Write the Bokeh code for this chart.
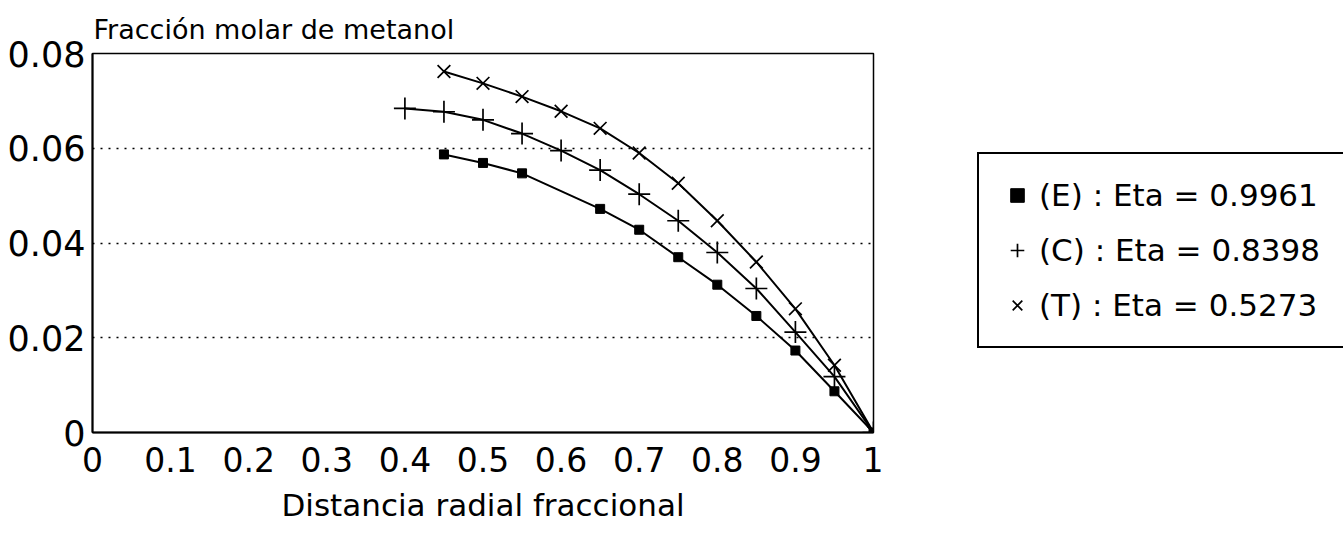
from bokeh.plotting import figure
from bokeh.layouts import row
from bokeh.models import Range1d, FixedTicker, Legend, LegendItem
from bokeh.embed import file_html
from bokeh.resources import INLINE

# ---- data ----
x_E = [0.45, 0.50, 0.55, 0.65, 0.70, 0.75, 0.80, 0.85, 0.90, 0.95, 1.00]
y_E = [0.0587, 0.0569, 0.0547, 0.0472, 0.0428, 0.0370, 0.0312, 0.0246, 0.0173, 0.0087, 0.0]

x_C = [0.40, 0.45, 0.50, 0.55, 0.60, 0.65, 0.70, 0.75, 0.80, 0.85, 0.90, 0.95, 1.00]
y_C = [0.0684, 0.0677, 0.0660, 0.0631, 0.0595, 0.0554, 0.0503, 0.0447, 0.0380, 0.0304, 0.0212, 0.0118, 0.0]

x_T = [0.45, 0.50, 0.55, 0.60, 0.65, 0.70, 0.75, 0.80, 0.85, 0.90, 0.95, 1.00]
y_T = [0.0762, 0.0737, 0.0709, 0.0678, 0.0642, 0.0590, 0.0526, 0.0447, 0.0360, 0.0261, 0.0142, 0.0]

series_labels = ["(E) : Eta = 0.9961", "(C) : Eta = 0.8398", "(T) : Eta = 0.5273"]

x_ticks = [0, 0.1, 0.2, 0.3, 0.4, 0.5, 0.6, 0.7, 0.8, 0.9, 1]
x_tick_labels = ["0", "0.1", "0.2", "0.3", "0.4", "0.5", "0.6", "0.7", "0.8", "0.9", "1"]
y_ticks = [0, 0.02, 0.04, 0.06, 0.08]
y_tick_labels = ["0", "0.02", "0.04", "0.06", "0.08"]

title_text = "Fracción molar de metanol"
x_label = "Distancia radial fraccional"

FONT = "DejaVu Sans"

# ---------------- main chart ----------------
p = figure(width=883, height=533, output_backend="svg", toolbar_location=None,
           x_range=Range1d(0, 1), y_range=Range1d(0, 0.08),
           min_border_left=92, min_border_right=10, min_border_top=53,
           min_border_bottom=101)

p.background_fill_color = "white"
p.border_fill_color = "white"
p.outline_line_color = "black"
p.outline_line_width = 1.5

p.title.text = title_text
p.title.text_font = FONT
p.title.text_font_size = "27px"
p.title.text_font_style = "normal"
p.title.text_color = "black"
p.title.align = "left"
p.title.offset = 1
p.title.standoff = 17

for ax in (p.xaxis[0], p.yaxis[0]):
    ax.axis_line_color = "black"
    ax.axis_line_width = 2
    ax.major_tick_line_color = None
    ax.minor_tick_line_color = None
    ax.major_tick_out = 0
    ax.major_tick_in = 0
    ax.major_label_text_font = FONT
    ax.major_label_text_color = "black"

p.xaxis.ticker = FixedTicker(ticks=x_ticks)
p.xaxis.major_label_overrides = dict(zip(x_ticks, x_tick_labels))
p.xaxis.major_label_text_font_size = "33px"
p.xaxis.major_label_standoff = 14
p.xaxis.axis_label = x_label
p.xaxis.axis_label_text_font = FONT
p.xaxis.axis_label_text_font_size = "31px"
p.xaxis.axis_label_text_font_style = "normal"
p.xaxis.axis_label_text_color = "black"
p.xaxis.axis_label_standoff = 12

p.yaxis.ticker = FixedTicker(ticks=y_ticks)
p.yaxis.major_label_overrides = dict(zip(y_ticks, y_tick_labels))
p.yaxis.major_label_text_font_size = "35px"
p.yaxis.major_label_standoff = 7

p.xgrid.visible = False
p.ygrid.ticker = FixedTicker(ticks=[0.02, 0.04, 0.06])
p.ygrid.grid_line_color = "black"
p.ygrid.grid_line_width = 1.5
p.ygrid.grid_line_dash = "2 6"

p.line(x_E, y_E, line_color="black", line_width=2)
p.line(x_C, y_C, line_color="black", line_width=2)
p.line(x_T, y_T, line_color="black", line_width=2)

p.scatter(x_E, y_E, marker="square", size=9, fill_color="black", line_color="black")
p.scatter(x_C, y_C, marker="cross", size=22, line_color="black", line_width=1.7)
p.scatter(x_T, y_T, marker="x", size=18, line_color="black", line_width=1.7)

# ---------------- legend panel (its own ranges keep the series out of view) ----------------
q = figure(width=460, height=533, output_backend="svg", toolbar_location=None,
           x_range=Range1d(2, 3), y_range=Range1d(2, 3),
           x_axis_location=None, y_axis_location=None,
           min_border_left=0, min_border_right=0, min_border_top=0,
           min_border_bottom=0)
q.outline_line_color = None
q.xgrid.visible = False
q.ygrid.visible = False
q.background_fill_color = "white"
q.border_fill_color = "white"

lE = q.scatter(x_E, y_E, marker="square", fill_color="black", line_color="black")
lC = q.scatter(x_C, y_C, marker="cross", line_color="black", line_width=1.7)
lT = q.scatter(x_T, y_T, marker="x", line_color="black", line_width=1.7)

legend = Legend(items=[LegendItem(label=series_labels[0], renderers=[lE]),
                       LegendItem(label=series_labels[1], renderers=[lC]),
                       LegendItem(label=series_labels[2], renderers=[lT])],
                location=(94, 84))
legend.label_text_font = FONT
legend.label_text_font_size = "31px"
legend.label_text_color = "black"
legend.glyph_width = 34
legend.glyph_height = 34
legend.label_height = 40
legend.label_width = 320
legend.label_standoff = 5
legend.spacing = 15
legend.padding = 21
legend.margin = 0
legend.border_line_color = "black"
legend.border_line_alpha = 1.0
legend.border_line_width = 2
legend.background_fill_color = "white"
legend.background_fill_alpha = 1.0
q.add_layout(legend, "center")

layout = row(p, q)
open("out.html", "w").write(file_html(layout, INLINE))
